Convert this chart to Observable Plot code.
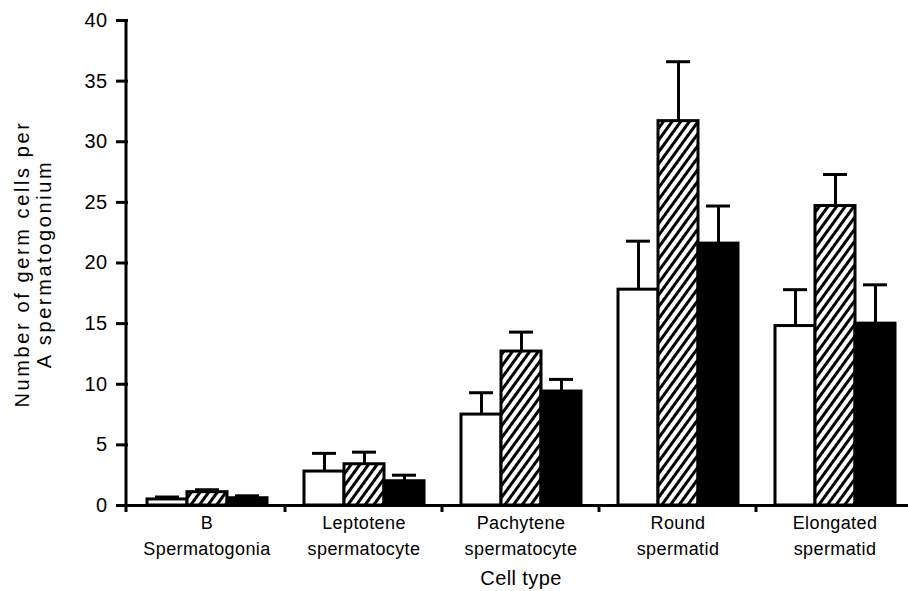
<!DOCTYPE html>
<html><head><meta charset="utf-8">
<script src="https://cdn.jsdelivr.net/npm/d3@7"></script>
<script src="https://cdn.jsdelivr.net/npm/@observablehq/plot@0.6"></script>
<style>
body{margin:0;background:#fff;}
#chart svg{font-family:"Liberation Sans", Arial, sans-serif;}
#chart svg text{letter-spacing:0.4px;}
#chart svg .ylab text{letter-spacing:2.6px;}
</style></head><body><div id="chart"></div>
<script>
// ---- data ----
const cellTypes = ["B\nSpermatogonia", "Leptotene\nspermatocyte", "Pachytene\nspermatocyte", "Round\nspermatid", "Elongated\nspermatid"];
const seriesNames = ["Open", "Hatched", "Solid"];
const openMean    = [0.5, 2.8, 7.5, 17.8, 14.8];
const openErr     = [0.2, 1.5, 1.8, 4.0, 3.0];
const hatchedMean = [1.1, 3.4, 12.7, 31.7, 24.7];
const hatchedErr  = [0.2, 1.0, 1.6, 4.9, 2.6];
const solidMean   = [0.6, 2.0, 9.4, 21.6, 15.0];
const solidErr    = [0.2, 0.5, 1.0, 3.1, 3.2];
const yTicks = [0, 5, 10, 15, 20, 25, 30, 35, 40];
const yLabel = "Number of germ cells per\nA spermatogonium";
const xLabel = "Cell type";

const means = [openMean, hatchedMean, solidMean];
const errs = [openErr, hatchedErr, solidErr];
const rows = cellTypes.flatMap((c, i) => seriesNames.map((s, j) => ({cell: c, series: s, mean: means[j][i], err: errs[j][i]})));
const fills = ["white", "url(#hatch)", "black"];

const plot = Plot.plot({
  width: 908, height: 591,
  marginLeft: 126, marginRight: -6, marginTop: 20, marginBottom: 86,
  style: {background: "white", color: "black", fontSize: "18px", overflow: "visible"},
  fx: {domain: cellTypes, padding: 0, label: null},
  x: {domain: seriesNames, paddingInner: 0, paddingOuter: 0.46, axis: null},
  y: {domain: [0, 40], axis: null},
  marks: [
    ...seriesNames.map((s, j) => Plot.barY(rows.filter(d => d.series === s), {fx: "cell", x: "series", y: "mean", fill: fills[j], stroke: "black", strokeWidth: 3})),
    Plot.ruleX(rows, {fx: "cell", x: "series", y1: "mean", y2: d => d.mean + d.err, stroke: "black", strokeWidth: 3}),
    Plot.tickY(rows, {fx: "cell", x: "series", y: d => d.mean + d.err, stroke: "black", strokeWidth: 3, inset: 8}),
    Plot.ruleY([0], {stroke: "black", strokeWidth: 3}),
    Plot.axisY({ticks: yTicks, tickSize: 12, strokeWidth: 3, tickPadding: 9, fontSize: 20, label: null}),
    Plot.axisFx({anchor: "bottom", tickSize: 0, tickPadding: 5, lineHeight: 1.45, fontSize: 18, label: null}),
    Plot.text([xLabel], {fx: () => cellTypes[2], frameAnchor: "bottom", dy: 79, lineAnchor: "bottom", fontSize: 20}),
    Plot.text([yLabel], {fx: () => cellTypes[0], frameAnchor: "left", rotate: -90, dx: -96, dy: 1, textAnchor: "middle", lineHeight: 1.1, fontSize: 20, className: "ylab"})
  ]
});

// hatch pattern
const svg = d3.select(plot);
const defs = svg.insert("defs", ":first-child");
const pat = defs.append("pattern").attr("id", "hatch").attr("patternUnits", "userSpaceOnUse")
  .attr("width", 7).attr("height", 7).attr("patternTransform", "rotate(36)");
pat.append("rect").attr("width", 7).attr("height", 7).attr("fill", "white");
pat.append("rect").attr("x", 0).attr("width", 3).attr("height", 7).attr("fill", "black");

// axis lines drawn from the library's scales
const fx = plot.scale("fx"), y = plot.scale("y");
const x0 = fx.range[0];
const g = svg.append("g").attr("stroke", "black").attr("stroke-width", 3);
g.append("line").attr("x1", x0).attr("x2", x0).attr("y1", y.apply(40) - 1).attr("y2", y.apply(0) + 7);
cellTypes.slice(1).forEach(c => {
  const bx = fx.apply(c);
  g.append("line").attr("x1", bx).attr("x2", bx).attr("y1", y.apply(0)).attr("y2", y.apply(0) + 7);
});

document.getElementById("chart").appendChild(plot);
</script></body></html>
